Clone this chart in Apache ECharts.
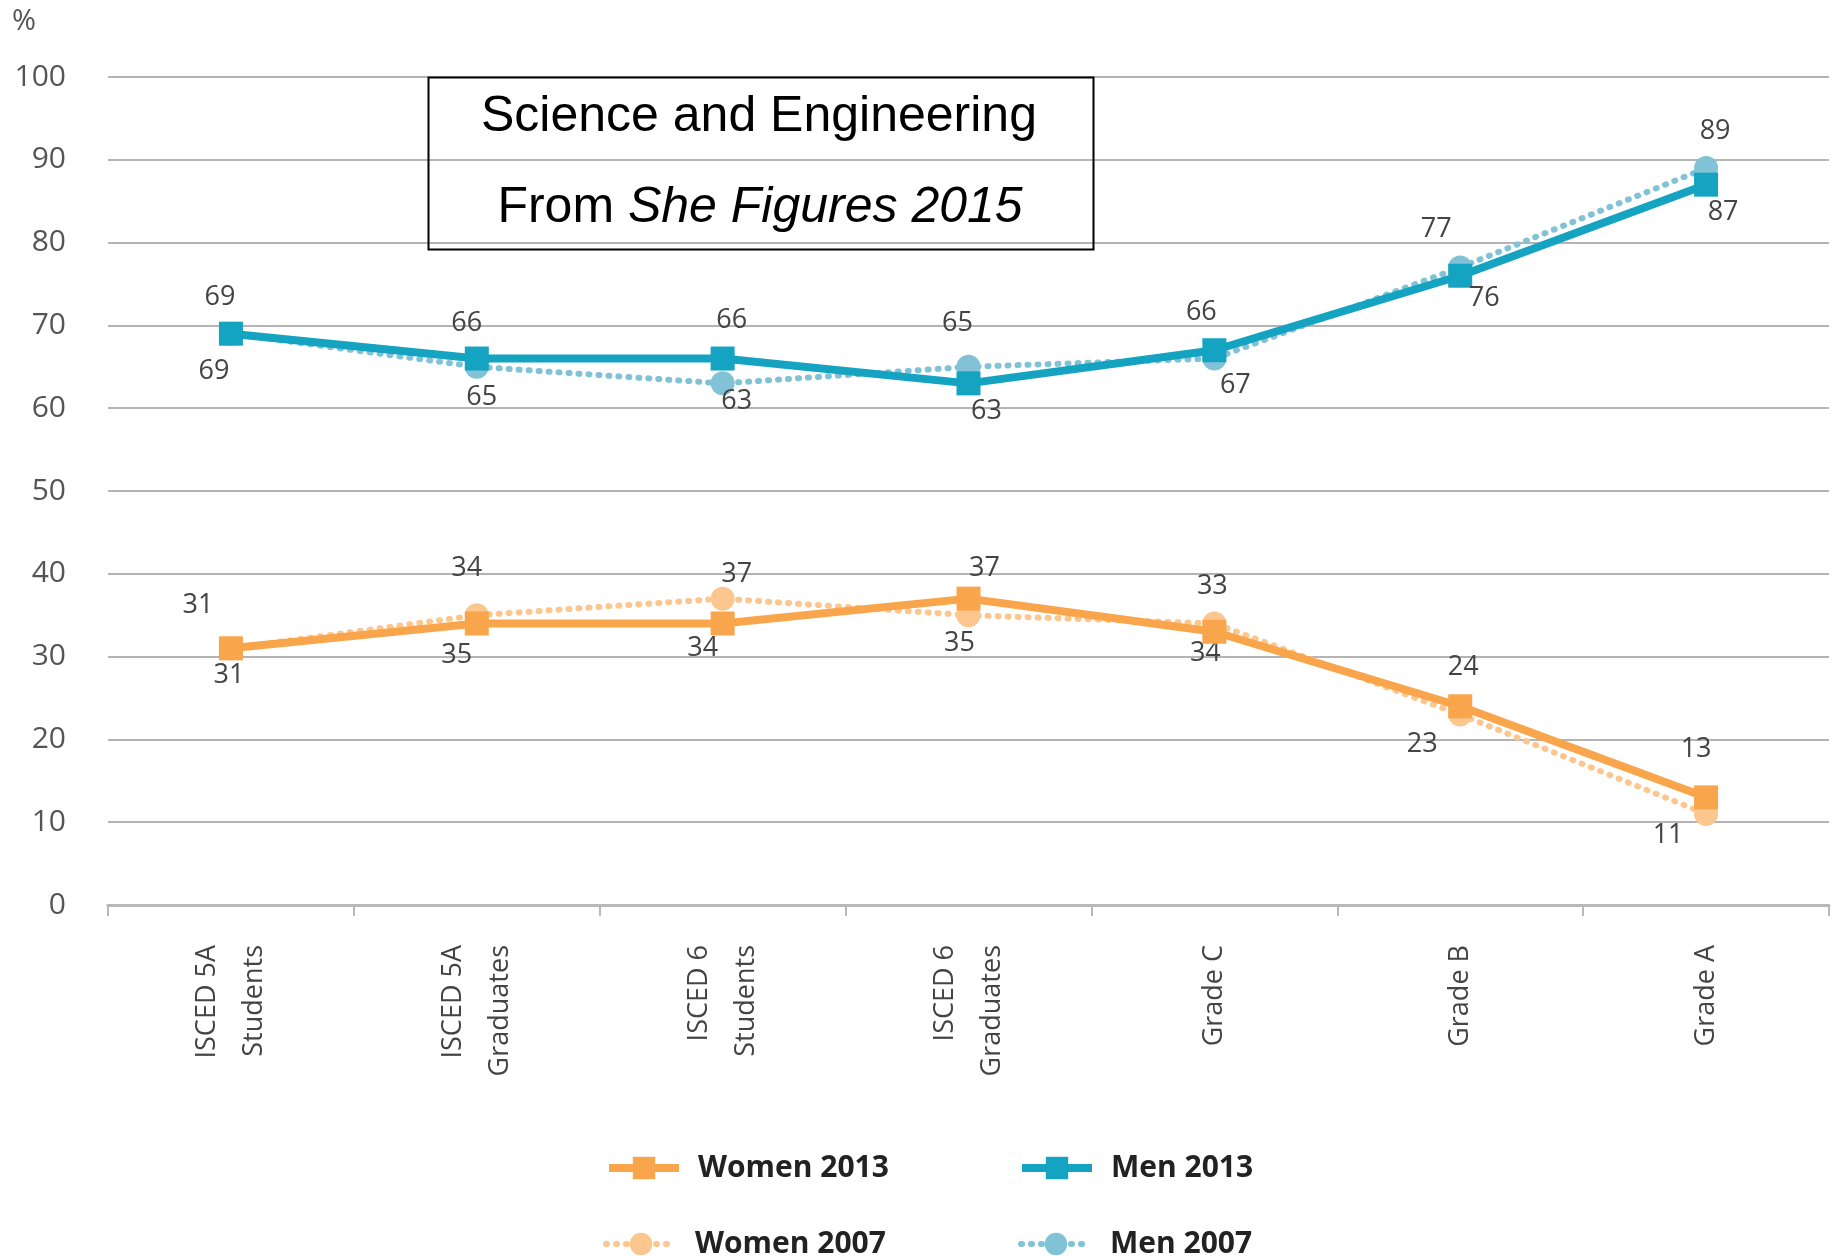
<!DOCTYPE html>
<html>
<head>
<meta charset="utf-8">
<script src="https://cdn.jsdelivr.net/npm/echarts@6/dist/echarts.min.js"></script>
<style>
  html, body { margin: 0; padding: 0; background: #fff; }
  #chart { width: 1834px; height: 1256px; }
</style>
</head>
<body>
<div id="chart"></div>
<script>
// ---------- data ----------
const categories = ['ISCED 5A\nStudents', 'ISCED 5A\nGraduates', 'ISCED 6\nStudents', 'ISCED 6\nGraduates', 'Grade C', 'Grade B', 'Grade A'];
const women2013 = [31, 34, 34, 37, 33, 24, 13];
const women2007 = [31, 35, 37, 35, 34, 23, 11];
const men2013   = [69, 66, 66, 63, 67, 76, 87];
const men2007   = [69, 65, 63, 65, 66, 77, 89];
const yMin = 0, yMax = 100, yStep = 10;
const titleLine1 = 'Science and Engineering';
const titleLine2a = 'From ';
const titleLine2b = 'She Figures 2015';
const unitLabel = '%';

// ---------- styles (label placements, kept apart from data) ----------
const offW13 = [[-2,27],[-10,-55],[-20,25],[16,-30],[-2,-45],[3,-39],[-10,-48]];
const offW07 = [[-33,-43],[-20,40],[14,-24],[-9,28],[-9,30],[-38,30],[-38,21]];
const offM13 = [[-17,38],[-10,-35],[9,-38],[18,28],[21,35],[24,23],[17,28]];
const offM07 = [[-11,-36],[5,31],[14,18],[-11,-43],[-13,-46],[-24,-38],[9,-37]];

const FONT = "'Open Sans', 'DejaVu Sans', sans-serif";
const labelBase = { show: true, position: 'inside', fontFamily: FONT, fontSize: 27, color: '#444' };

function lineStyleFor(color, solid) {
  return solid
    ? { color: color, width: 8 }
    : { color: color, width: 6, type: [1, 9], cap: 'round' };
}

function makeSeries(name, values, offsets, color, solid, symbol, z) {
  return {
    name: name,
    type: 'line',
    z: z,
    symbol: symbol,
    symbolSize: 24,
    data: values.map((v, i) => ({
      value: v,
      label: Object.assign({}, labelBase, { offset: offsets[i] })
    })),
    itemStyle: { color: color },
    lineStyle: lineStyleFor(color, solid),
    emphasis: { disabled: true },
    animation: false
  };
}

const C_W13 = '#F9A54B', C_M13 = '#14A3C0', C_W07 = '#FCC78F', C_M07 = '#82C2D6';

function legendAt(name, left, top, color, solid) {
  return {
    data: [name], left: left, top: top, padding: 0,
    itemWidth: 70, itemHeight: 28,
    lineStyle: lineStyleFor(color, solid),
    textStyle: { fontFamily: FONT, fontWeight: 'bold', fontSize: 30, color: '#222', lineHeight: 36, padding: [0, 0, 0, 14] },
    selectedMode: false
  };
}

const chart = echarts.init(document.getElementById('chart'), null, { renderer: 'canvas' });
chart.setOption({
  backgroundColor: '#ffffff',
  animation: false,
  grid: { left: 108, right: 5, top: 77, bottom: 351, containLabel: false },
  xAxis: {
    type: 'category',
    data: categories,
    boundaryGap: true,
    axisLine: { show: true, lineStyle: { color: '#b8b8b8', width: 3 } },
    axisTick: { show: true, length: 11, lineStyle: { color: '#b8b8b8', width: 2 } },
    axisLabel: { interval: 0, rotate: 90, margin: 40, fontFamily: FONT, fontSize: 27, lineHeight: 47, color: '#444' },
    splitLine: { show: false }
  },
  yAxis: {
    type: 'value',
    min: yMin, max: yMax, interval: yStep,
    axisLine: { show: false },
    axisTick: { show: false },
    axisLabel: { margin: 42, fontFamily: FONT, fontSize: 30, color: '#555', padding: [0, 0, 16, 0] },
    splitLine: { lineStyle: { color: '#b4b4b4', width: 2 } }
  },
  legend: [
    legendAt('Women 2013', 605, 1150, C_W13, true),
    legendAt('Men 2013', 1018, 1150, C_M13, true),
    legendAt('Women 2007', 603, 1226, C_W07, false),
    legendAt('Men 2007', 1018, 1226, C_M07, false)
  ],
  graphic: [
    { type: 'rect', left: 426, top: 75, z: 100,
      shape: { width: 665, height: 172 },
      style: { fill: 'none', stroke: '#000', lineWidth: 2 } },
    { type: 'text', x: 759, y: 117, z: 101,
      style: { text: titleLine1, fontFamily: "'Liberation Sans', Arial, sans-serif", fontSize: 50, fill: '#000', textAlign: 'center', textVerticalAlign: 'middle' } },
    { type: 'text', x: 760, y: 208, z: 101,
      style: {
        text: '{n|' + titleLine2a + '}{i|' + titleLine2b + '}',
        textAlign: 'center', textVerticalAlign: 'middle',
        rich: {
          n: { fontFamily: "'Liberation Sans', Arial, sans-serif", fontSize: 50, fill: '#000', color: '#000' },
          i: { fontFamily: "'Liberation Sans', Arial, sans-serif", fontSize: 50, fontStyle: 'italic', fill: '#000', color: '#000' }
        }
      } },
    { type: 'text', x: 24, y: 22,
      style: { text: unitLabel, fontFamily: FONT, fontSize: 29, fill: '#555', textAlign: 'center', textVerticalAlign: 'middle' } }
  ],
  series: [
    makeSeries('Women 2007', women2007, offW07, C_W07, false, 'circle', 2),
    makeSeries('Men 2007', men2007, offM07, C_M07, false, 'circle', 2),
    makeSeries('Women 2013', women2013, offW13, C_W13, true, 'rect', 3),
    makeSeries('Men 2013', men2013, offM13, C_M13, true, 'rect', 3)
  ]
});
</script>
</body>
</html>
